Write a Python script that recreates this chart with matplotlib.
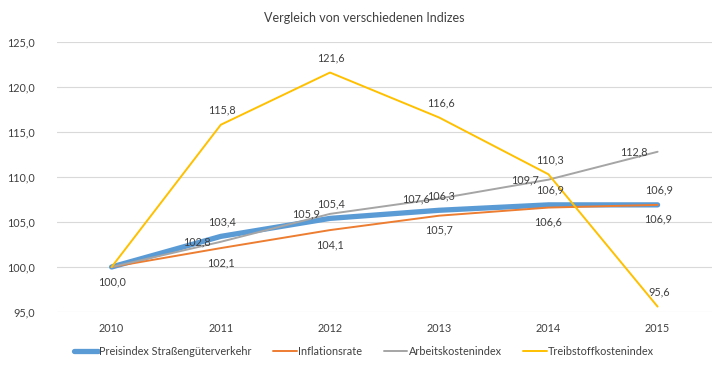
import matplotlib
matplotlib.use("Agg")
import matplotlib.pyplot as plt

years = ["2010", "2011", "2012", "2013", "2014", "2015"]
preisindex = [100.0, 103.4, 105.4, 106.3, 106.9, 106.9]
inflation = [100.0, 102.1, 104.1, 105.7, 106.6, 106.9]
arbeit = [100.0, 102.8, 105.9, 107.6, 109.7, 112.8]
treibstoff = [100.0, 115.8, 121.6, 116.6, 110.3, 95.6]
y_ticks = [95, 100, 105, 110, 115, 120, 125]

plt.rcParams['font.family'] = ['Lato', 'DejaVu Sans']
fs = 7.8
txtc = '#404040'

fig = plt.figure(figsize=(7.28, 3.71), dpi=100)
ax = fig.add_axes([0.0783, 0.159, 0.9, 0.728])
x = list(range(len(years)))

series = [
    ("Preisindex Straßengüterverkehr", preisindex, '#5B9BD5', 3.8, 'above'),
    ("Inflationsrate", inflation, '#ED7D31', 1.4, 'below'),
    ("Arbeitskostenindex", arbeit, '#A5A5A5', 1.4, 'left'),
    ("Treibstoffkostenindex", treibstoff, '#FFC000', 1.4, 'above'),
]
for name, vals, col, lw, pos in series:
    ax.plot(x, vals, color=col, lw=lw, label=name, solid_capstyle='round', zorder=3)

def fmt(v):
    return f"{v:.1f}".replace('.', ',')

for name, vals, col, lw, pos in series:
    for i, v in enumerate(vals):
        if i == 0:
            continue
        if pos == 'above':
            ax.annotate(fmt(v), (i, v), xytext=(1, 6.5), textcoords='offset points',
                        ha='center', va='bottom', fontsize=fs, color=txtc, zorder=5)
        elif pos == 'below':
            ax.annotate(fmt(v), (i, v), xytext=(0, -6.5), textcoords='offset points',
                        ha='center', va='top', fontsize=fs, color=txtc, zorder=5)
        else:
            ax.annotate(fmt(v), (i, v), xytext=(-7, 0), textcoords='offset points',
                        ha='right', va='center', fontsize=fs, color=txtc, zorder=5)
ax.annotate(fmt(preisindex[0]), (0, preisindex[0]), xytext=(0, -6.5), textcoords='offset points',
            ha='center', va='top', fontsize=fs, color=txtc, zorder=5)

ax.set_xlim(-0.5, len(years) - 0.5)
ax.set_ylim(95, 125)
ax.set_yticks(y_ticks)
ax.set_yticklabels([fmt(t) for t in y_ticks], fontsize=fs, color=txtc)
ax.set_xticks(x)
ax.set_xticklabels(years, fontsize=fs, color=txtc)
ax.tick_params(length=0, pad=8)
ax.tick_params(axis='y', pad=16)
ax.grid(axis='y', color='#D9D9D9', lw=0.8, zorder=0)
for s in ax.spines.values():
    s.set_visible(False)

fig.text(0.5, 0.952, "Vergleich von verschiedenen Indizes", ha='center', va='center',
         fontsize=9, color=txtc)

fig.legend(loc='center', bbox_to_anchor=(0.5, 0.052), ncol=4, frameon=False,
           fontsize=fs, handlelength=2.2, handletextpad=0.1, columnspacing=2.0,
           labelcolor=txtc)

fig.savefig("out.png", dpi=100)
